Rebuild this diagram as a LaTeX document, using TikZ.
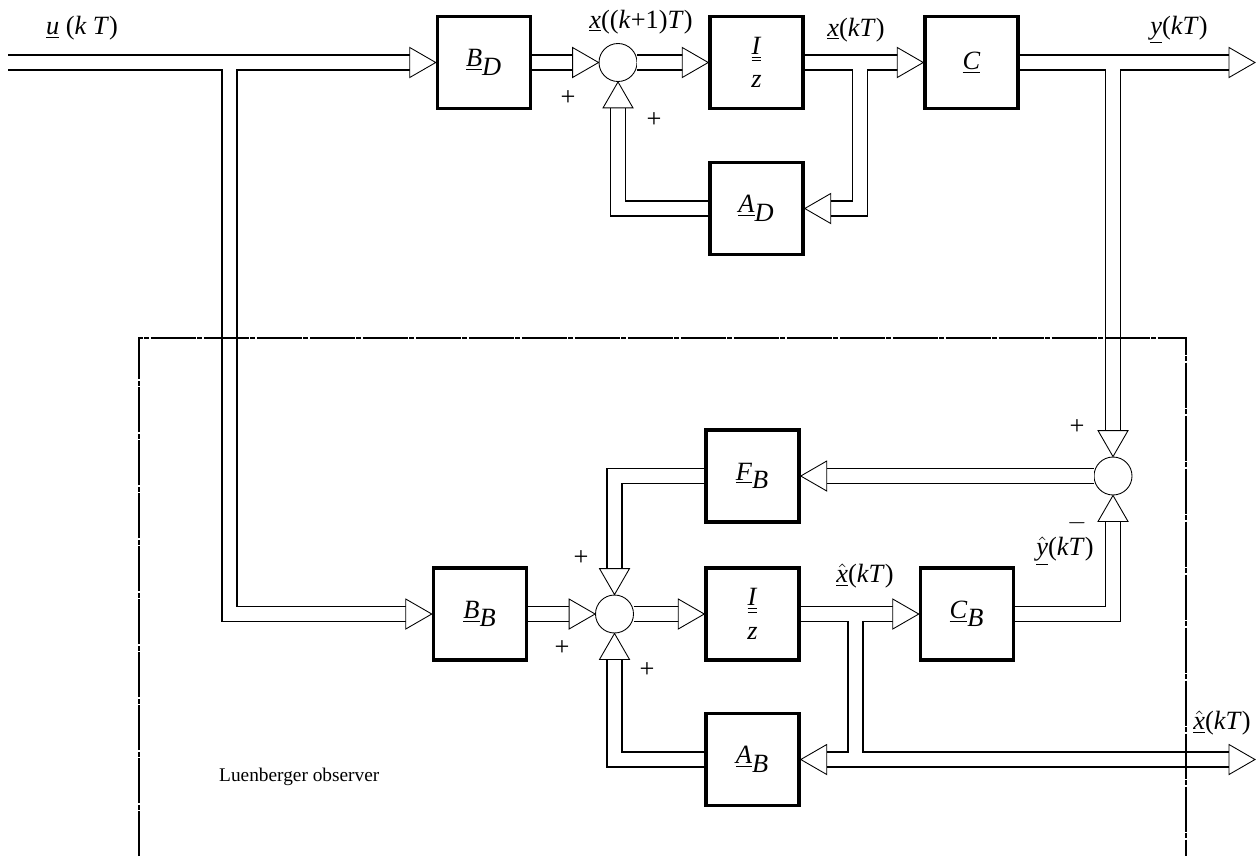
\documentclass[tikz,border=0pt]{standalone}
\usepackage{fontspec}
\setmainfont{Liberation Serif}
\usetikzlibrary{arrows.meta,positioning,shapes.geometric,decorations.markings}
\newcommand{\ul}[1]{\underline{\textit{#1}}}
\newcommand{\uul}[1]{\underline{\underline{\textit{#1}}}}
\newcommand{\hul}[1]{$\hat{\mbox{\ul{#1}}}$}
\tikzset{
  block/.style={draw,line width=2pt,fill=white,minimum width=1.86cm,minimum height=1.84cm,
    font=\fontsize{15}{17}\selectfont,align=center},
  sum/.style={circle,draw,line width=0.5pt,minimum size=0.76cm,inner sep=0pt},
  sig/.style={line width=0.7pt,double,double distance=0.275cm},
  % double line ending in an open triangle
  into/.style={sig,shorten >=0.5cm,postaction={decorate},
    decoration={markings,mark=at position 1 with {
      \draw[line width=0.5pt,fill=white,line join=miter]
        (0,0) -- (-0.52cm,0.3cm) -- (-0.52cm,-0.3cm) -- cycle;}}},
  lbl/.style={font=\fontsize{15}{17}\selectfont,inner sep=1pt},
  sgn/.style={font=\fontsize{15}{17}\selectfont,inner sep=0pt},
  obs/.style={line width=0.6pt,dash pattern=on 0.9cm off 0.03cm on 0.1cm off 0.03cm},
}
\begin{document}
\begin{tikzpicture}[x=0.02cm,y=-0.02cm]
  \useasboundingbox (0,0) rectangle (1256,856);
  % blocks
  \foreach \n/\x/\y/\t in {
    BD/484/62.5/{\ul{B}$_{\textit{D}}$},
    IzD/756.5/62.5/{\uul{I}\\[2pt]\textit{z}},
    C/971.5/62.5/{\ul{C}},
    AD/756.5/208.5/{\ul{A}$_{\textit{D}}$},
    FB/752.5/476/{\ul{F}$_{\textit{B}}$},
    BB/480/614/{\ul{B}$_{\textit{B}}$},
    IzB/752.5/614/{\uul{I}\\[2pt]\textit{z}},
    CB/967/614/{\ul{C}$_{\textit{B}}$},
    AB/752.5/759.5/{\ul{A}$_{\textit{B}}$}}
    \node[block] (\n) at (\x,\y) {\t};
  \node[sum] (sumD) at (618,62.5) {};
  \node[sum] (sumR) at (1113,476) {};
  \node[sum] (sumL) at (614.5,614) {};
  % free ends and branch points
  \coordinate (uin) at (8,62.5);
  \coordinate (yout) at (1255,62.5);
  \coordinate (xout) at (1255,759.5);
  \coordinate (ju) at (229.5,69.4);
  \coordinate (jx) at (860,69.4);
  \coordinate (jy) at (1113,69.4);
  \coordinate (jxh) at (855.5,620.9);
  \coordinate (jxh2) at (862.4,759.5);
  % plant
  \draw[into] (uin) -- (BD.west);
  \draw[into] (BD) -- (sumD);
  \draw[into] (sumD) -- (IzD);
  \draw[into] (IzD) -- (C);
  \draw[into] (C) -- (yout);
  \draw[into] (jx) |- (AD.east);
  \draw[into] (AD.west) -| (sumD.south);
  % observer
  \draw[into] (BB) -- (sumL);
  \draw[into] (sumL) -- (IzB);
  \draw[into] (IzB) -- (CB);
  \draw[into] (sumR) -- (FB);
  \draw[into] (FB.west) -| (sumL.north);
  \draw[into] (AB.west) -| (sumL.south);
  \draw[into] (CB.east) -| (sumR.south);
  \draw[into] (jxh) |- (AB.east);
  \draw[into] (jxh2) -- (xout);
  \draw[into] (ju) |- (BB.west);
  \draw[into] (jy) -- (sumR.north);
  % observer frame
  \draw[obs] (139,856) |- (1186,338) -- (1186,856);
  \node[font=\fontsize{11}{13}\selectfont,anchor=west] (obsname) at (213,777) {Luenberger observer};
  % signal names
  \node[lbl] (lu) at (82,28) {\ul{u} (\textit{k T})};
  \node[lbl] (lxk) at (641,22) {\ul{x}((\textit{k}+1)\textit{T})};
  \node[lbl] (lx) at (856,30) {\ul{x}(\textit{kT})};
  \node[lbl] (ly) at (1179,30) {\ul{y}(\textit{kT})};
  \node[lbl] (lxh) at (865,576) {\hul{x}(\textit{kT})};
  \node[lbl] (lyh) at (1065,551) {\hul{y}(\textit{kT})};
  \node[lbl] (lxo) at (1222,723) {\hul{x}(\textit{kT})};
  % signs
  \foreach \p in {(568,98),(654,120),(1077,427),(581,558),(562,648),(647,670)}
    \node[sgn] at \p {+};
  \node[sgn] at (1077,523) {$-$};
\end{tikzpicture}
\end{document}
